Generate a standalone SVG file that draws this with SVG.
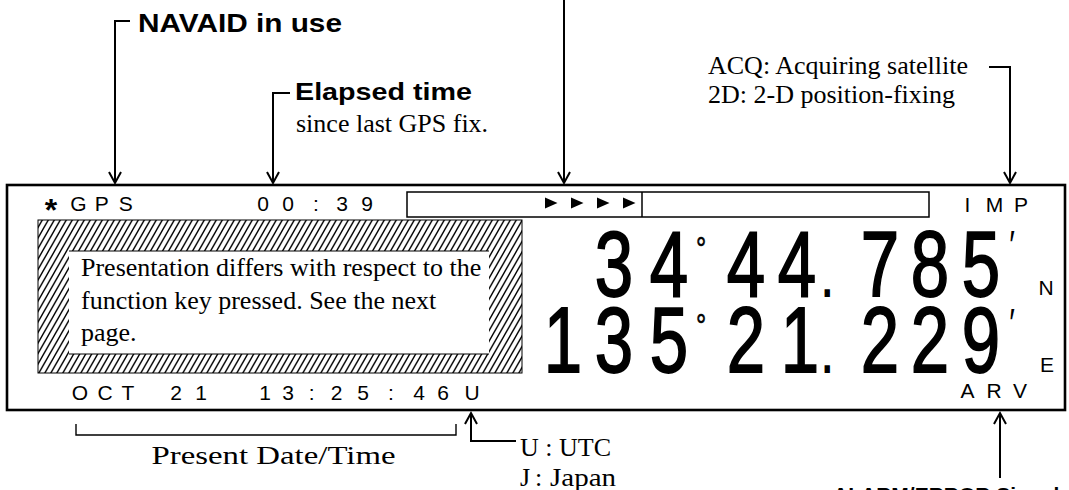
<svg xmlns="http://www.w3.org/2000/svg" width="1069" height="490" viewBox="0 0 1069 490">
<style>
.conn{fill:none;stroke:#000;stroke-width:2}
.thin{fill:none;stroke:#000;stroke-width:1.4}
.bold{font-family:"Liberation Sans",Arial,sans-serif;font-weight:bold;fill:#000}
.ser{font-family:"Liberation Serif","Times New Roman",serif;font-size:26px;fill:#000}
.lcd{font-family:"Liberation Sans",Arial,sans-serif;font-size:21px;text-anchor:middle;fill:#000}
.big{font-family:"Liberation Sans",Arial,sans-serif;font-size:92px;text-anchor:middle;fill:#000;stroke:#000;stroke-width:1.8}
.deg{font-size:34px;stroke-width:0.6}
.dot{font-size:55px}
.prm{font-size:40px;stroke-width:0;font-family:"Liberation Sans","DejaVu Sans",sans-serif}
</style>
<defs>
<marker id="ah" viewBox="-12 -7 14 14" markerUnits="userSpaceOnUse" markerWidth="14" markerHeight="14" refX="0" refY="0" orient="auto" overflow="visible">
<path d="M-11,-6 L0,0 L-11,6" fill="none" stroke="#000" stroke-width="2"/>
</marker>
<pattern id="hatch" patternUnits="userSpaceOnUse" width="6" height="10.5">
<path d="M-1,12.25 L7,-1.75 M-7,12.25 L1,-1.75 M5,12.25 L13,-1.75" stroke="#000" stroke-width="1.4"/>
</pattern>
</defs>
<rect width="1069" height="490" fill="#fff"/>

<g id="display">
<rect x="7" y="185" width="1058" height="225" fill="none" stroke="#000" stroke-width="2.6"/>
</g>

<g id="navaid-field">
<text class="lcd" y="211"><tspan x="51" y="221" font-size="32" font-weight="bold">*</tspan><tspan x="78.3" y="211" font-weight="normal">G</tspan><tspan x="101.7">P</tspan><tspan x="125.8">S</tspan></text>
</g>

<g id="elapsed-field">
<text class="lcd" y="211" x="263 288 316 342 367">00:39</text>
</g>

<g id="progress-bar">
<rect x="407" y="192" width="522" height="25" fill="none" stroke="#000" stroke-width="1.5"/>
<line x1="642" y1="192" x2="642" y2="217" stroke="#000" stroke-width="1.5"/>
<path d="M545,197.5 L557.5,203 L545,208.5 Z M571,197.5 L583.5,203 L571,208.5 Z M597,197.5 L609.5,203 L597,208.5 Z M623,197.5 L635.5,203 L623,208.5 Z" fill="#000"/>
</g>

<g id="status-field">
<text class="lcd" y="212" x="967.5 994.5 1021">IMP</text>
</g>

<g id="function-area">
<path d="M38,220 H522 V373 H38 Z M69,251 H489 V354 H69 Z" fill="url(#hatch)" fill-rule="evenodd"/>
<rect x="38" y="220" width="484" height="153" fill="none" stroke="#000" stroke-width="1"/>
<path d="M69,251 H489 M69,354 H489" fill="none" stroke="#000" stroke-width="1"/>
<text class="ser" x="81" y="276">Presentation differs with respect to the</text>
<text class="ser" x="81" y="308.5">function key pressed. See the next</text>
<text class="ser" x="81" y="341">page.</text>
</g>

<g id="position">
<g transform="scale(0.75,1)">
<text class="big" y="296"><tspan x="818.7">3</tspan><tspan x="892">4</tspan><tspan class="deg" x="934.7" y="260">°</tspan><tspan x="994.7" y="296">4</tspan><tspan x="1062.7">4</tspan><tspan class="dot" x="1103">.</tspan><tspan x="1173.3">7</tspan><tspan x="1240">8</tspan><tspan x="1308">5</tspan><tspan class="prm" x="1349.3" y="259">′</tspan></text>
<text class="big" y="372"><tspan x="750.7">1</tspan><tspan x="818.7">3</tspan><tspan x="892">5</tspan><tspan class="deg" x="934.7" y="337">°</tspan><tspan x="994.7" y="372">2</tspan><tspan x="1066.7">1</tspan><tspan class="dot" x="1103">.</tspan><tspan x="1173.3">2</tspan><tspan x="1240">2</tspan><tspan x="1308">9</tspan><tspan class="prm" x="1349.3" y="337">′</tspan></text>
</g>
<text class="lcd" x="1046" y="295">N</text>
<text class="lcd" x="1047" y="372">E</text>
</g>

<g id="datetime-field">
<text class="lcd" y="400" x="80 105 128 152 176 201 233 265 288 311.6 336.6 363 391 419 443 472">OCT 21 13:25:46U</text>
</g>

<g id="alarm-field">
<text class="lcd" y="398" x="967.5 994 1020">ARV</text>
</g>

<g id="connectors">
<path class="conn" d="M130,21 H115 V183" marker-end="url(#ah)"/>
<path class="conn" d="M290,93 H273 V183" marker-end="url(#ah)"/>
<path class="conn" d="M564,0 V183" marker-end="url(#ah)"/>
<path class="conn" d="M989,67 H1010 V183" marker-end="url(#ah)"/>
<path class="conn" d="M516,441 H471 V413" marker-end="url(#ah)"/>
<path class="conn" d="M1000,478 V413" marker-end="url(#ah)"/>
<path class="thin" d="M76,424 V435 H456 V424"/>
</g>

<g id="label-navaid">
<text class="bold" x="138" y="32" font-size="25" textLength="204" lengthAdjust="spacingAndGlyphs">NAVAID in use</text>
</g>
<g id="label-elapsed">
<text class="bold" x="295" y="100" font-size="24" textLength="177" lengthAdjust="spacingAndGlyphs">Elapsed time</text>
<text class="ser" x="296" y="132">since last GPS fix.</text>
</g>
<g id="label-status">
<text class="ser" x="708" y="74">ACQ: Acquiring satellite</text>
<text class="ser" x="708" y="103">2D: 2-D position-fixing</text>
</g>
<g id="label-date">
<text class="ser" x="151.5" y="464" font-size="29" textLength="244" lengthAdjust="spacingAndGlyphs">Present Date/Time</text>
</g>
<g id="label-zone">
<text class="ser" x="520" y="456" font-size="24">U : UTC</text>
<text class="ser" x="520" y="486" font-size="24">J<tspan x="535">:</tspan><tspan x="550" textLength="66" lengthAdjust="spacingAndGlyphs">Japan</tspan></text>
</g>
<g id="label-alarm">
<text class="bold" x="833" y="502" font-size="21">ALARM/ERROR Signal</text>
</g>
</svg>
